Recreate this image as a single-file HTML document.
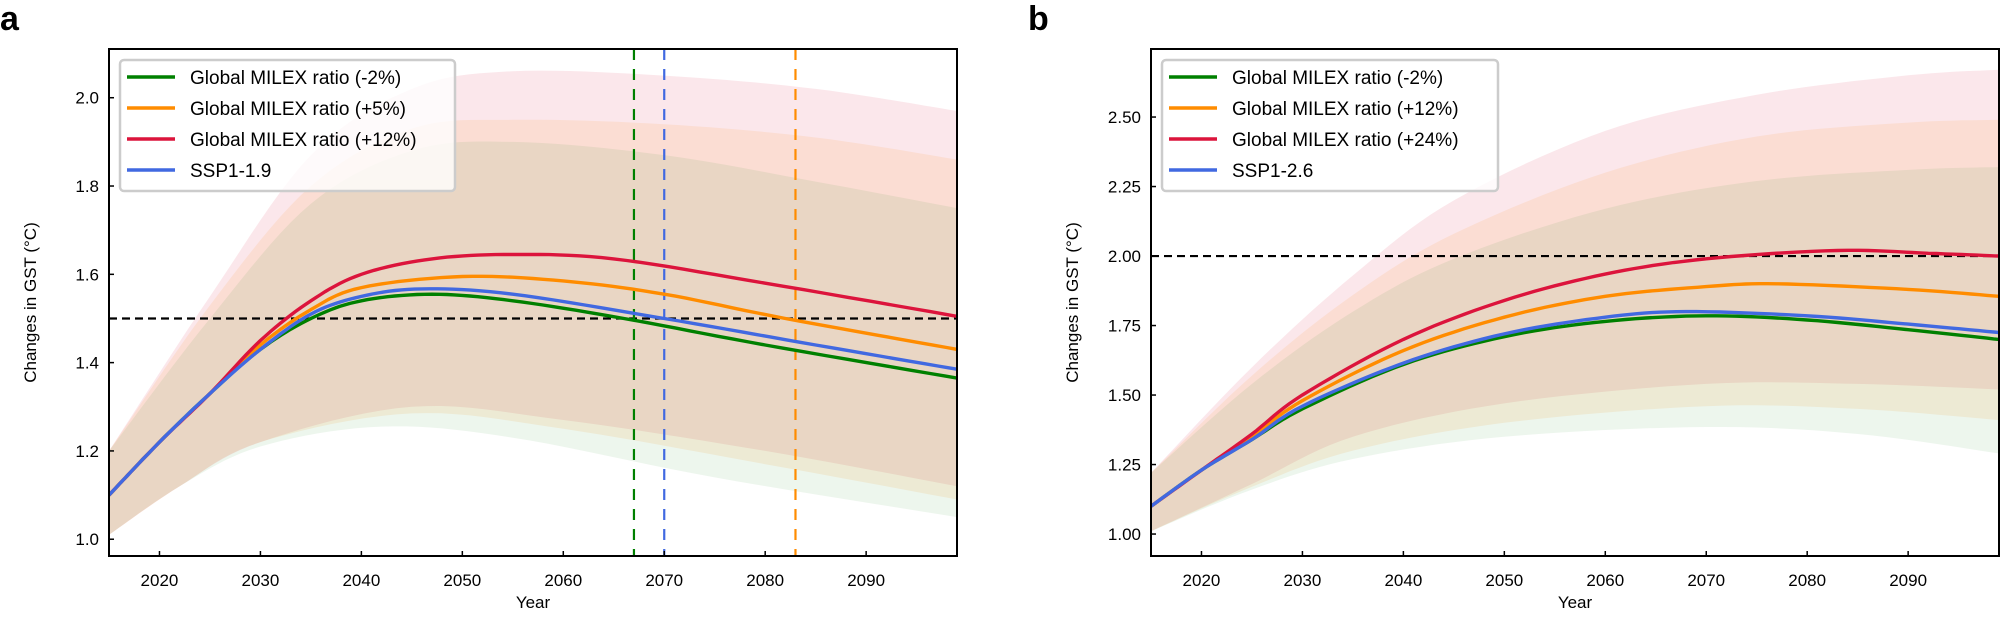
<!DOCTYPE html>
<html><head><meta charset="utf-8"><style>
body{margin:0;background:#fff;width:2001px;height:624px;overflow:hidden}
svg{font-family:"Liberation Sans",Arial,sans-serif}
</style></head><body>
<svg id="s" width="2001" height="624" xmlns="http://www.w3.org/2000/svg"></svg>
<script>
const S=document.getElementById('s');let out='';
function cr(pts){
 const r=[];for(let i=0;i<pts.length-1;i++){const p0=pts[Math.max(0,i-1)],p1=pts[i],p2=pts[i+1],p3=pts[Math.min(pts.length-1,i+2)];
 for(let t=0;t<1;t+=0.1){const t2=t*t,t3=t2*t;const f=(a,b,c,d)=>0.5*(2*b+(-a+c)*t+(2*a-5*b+4*c-d)*t2+(-a+3*b-3*c+d)*t3);r.push([f(p0[0],p1[0],p2[0],p3[0]),f(p0[1],p1[1],p2[1],p3[1])]);}}
 r.push(pts[pts.length-1]);return r;}
function panel(o){
 const X=v=>o.x0+(v-2015)*(o.x1-o.x0)/84, Y=v=>o.yb-(v-o.vmin)*o.k;
 const P=a=>cr(a).map(p=>X(p[0]).toFixed(1)+','+Y(p[1]).toFixed(1));
 let g=`<clipPath id="c${o.id}"><rect x="${o.x0}" y="49" width="${o.x1-o.x0}" height="${o.yb-49}"/></clipPath><g clip-path="url(#c${o.id})">`;
 for(const b of o.bands){g+=`<polygon points="${P(b.u).join(' ')} ${P(b.l).reverse().join(' ')}" fill="${b.c}" fill-opacity="${b.a}"/>`;}
 for(const h of o.hd)g+=`<line x1="${o.x0}" x2="${o.x1}" y1="${Y(h)}" y2="${Y(h)}" stroke="#000" stroke-width="2.2" stroke-dasharray="8,5"/>`;
 for(const v of o.vd)g+=`<line x1="${X(v[0])}" x2="${X(v[0])}" y1="49" y2="${o.yb}" stroke="${v[1]}" stroke-width="2.2" stroke-dasharray="11,9"/>`;
 for(const l of o.lines)g+=`<polyline points="${P(l.d).join(' ')}" fill="none" stroke="${l.c}" stroke-width="3.4"/>`;
 g+='</g>';
 g+=`<rect x="${o.x0}" y="49" width="${o.x1-o.x0}" height="${o.yb-49}" fill="none" stroke="#000" stroke-width="2"/>`;
 for(let yr=2020;yr<=2090;yr+=10){const x=X(yr);g+=`<line x1="${x}" x2="${x}" y1="${o.yb}" y2="${o.yb-5}" stroke="#000" stroke-width="1.5"/><text x="${x}" y="${o.yb+30}" font-size="17" text-anchor="middle">${yr}</text>`;}
 for(const t of o.yt){const y=Y(t);g+=`<line x1="${o.x0}" x2="${o.x0+5}" y1="${y}" y2="${y}" stroke="#000" stroke-width="1.5"/><text x="${o.x0-10}" y="${y+6}" font-size="17" text-anchor="end">${t.toFixed(o.dec)}</text>`;}
 g+=`<text x="${(o.x0+o.x1)/2}" y="608" font-size="17" text-anchor="middle">Year</text>`;
 g+=`<text transform="translate(${o.x0-73},${(49+o.yb)/2}) rotate(-90)" font-size="17" text-anchor="middle">Changes in GST (°C)</text>`;
 g+=`<text x="${o.lx-12}" y="30" font-size="34" font-weight="bold">${o.id}</text>`;
 const lx=o.x0+11;g+=`<rect x="${lx}" y="60" width="${o.lw}" height="131" rx="4" fill="#fff" fill-opacity="0.8" stroke="#ccc" stroke-width="2.5"/>`;
 o.leg.forEach((e,i)=>{const y=77+i*31;g+=`<line x1="${lx+7}" x2="${lx+55}" y1="${y}" y2="${y}" stroke="${e[1]}" stroke-width="3.5"/><text x="${lx+70}" y="${y+7}" font-size="19">${e[0]}</text>`;});
 out+=g;}
const G='#008000',O='#ff8c00',R='#dc143c',B='#4169e1';
panel({id:'a',x0:109,x1:957,yb:556,vmin:0.962,k:441.5,dec:1,yt:[1.0,1.2,1.4,1.6,1.8,2.0],hd:[1.5],lx:12,lw:335,
 vd:[[2067,G],[2070,B],[2083,O]],
 bands:[
 {c:R,a:0.1,u:[[2015,1.2],[2025,1.55],[2035,1.87],[2045,2.02],[2055,2.06],[2070,2.05],[2085,2.02],[2099,1.97]],l:[[2015,1.01],[2022,1.12],[2030,1.22],[2045,1.3],[2060,1.27],[2080,1.2],[2099,1.12]]},
 {c:O,a:0.1,u:[[2015,1.2],[2025,1.53],[2035,1.8],[2045,1.93],[2055,1.95],[2070,1.94],[2085,1.91],[2099,1.86]],l:[[2015,1.01],[2022,1.12],[2030,1.22],[2045,1.285],[2060,1.25],[2080,1.17],[2099,1.09]]},
 {c:G,a:0.07,u:[[2015,1.2],[2025,1.5],[2035,1.76],[2045,1.88],[2055,1.9],[2070,1.87],[2085,1.81],[2099,1.75]],l:[[2015,1.01],[2022,1.12],[2030,1.21],[2042,1.255],[2055,1.23],[2075,1.14],[2099,1.05]]}],
 lines:[
 {c:G,d:[[2015,1.1],[2020,1.22],[2025,1.33],[2030,1.43],[2035,1.5],[2040,1.54],[2047,1.555],[2055,1.54],[2066,1.5],[2080,1.44],[2099,1.365]]},
 {c:O,d:[[2015,1.1],[2020,1.22],[2025,1.33],[2030,1.44],[2035,1.52],[2040,1.57],[2050,1.595],[2060,1.585],[2070,1.555],[2082,1.5],[2099,1.43]]},
 {c:R,d:[[2015,1.1],[2020,1.22],[2025,1.33],[2030,1.45],[2035,1.54],[2040,1.6],[2047,1.635],[2055,1.645],[2065,1.635],[2080,1.58],[2099,1.505]]},
 {c:B,d:[[2015,1.1],[2020,1.22],[2025,1.33],[2030,1.43],[2035,1.51],[2040,1.55],[2046,1.567],[2055,1.555],[2070,1.5],[2085,1.44],[2099,1.385]]}],
 leg:[['Global MILEX ratio (-2%)',G],['Global MILEX ratio (+5%)',O],['Global MILEX ratio (+12%)',R],['SSP1-1.9',B]]});
panel({id:'b',x0:1151,x1:1999,yb:556,vmin:0.921,k:278,dec:2,yt:[1.0,1.25,1.5,1.75,2.0,2.25,2.5],hd:[2.0],lx:1040,lw:336,
 vd:[],
 bands:[
 {c:R,a:0.1,u:[[2015,1.22],[2025,1.6],[2035,1.93],[2045,2.2],[2060,2.45],[2075,2.58],[2090,2.65],[2099,2.67]],l:[[2015,1.01],[2025,1.18],[2035,1.35],[2050,1.47],[2070,1.54],[2085,1.54],[2099,1.52]]},
 {c:O,a:0.1,u:[[2015,1.22],[2025,1.57],[2035,1.86],[2045,2.08],[2060,2.3],[2075,2.43],[2090,2.48],[2099,2.49]],l:[[2015,1.01],[2025,1.17],[2035,1.3],[2050,1.4],[2070,1.46],[2085,1.45],[2099,1.41]]},
 {c:G,a:0.07,u:[[2015,1.22],[2025,1.54],[2035,1.8],[2045,1.99],[2060,2.17],[2075,2.27],[2090,2.31],[2099,2.32]],l:[[2015,1.01],[2025,1.16],[2035,1.27],[2050,1.35],[2070,1.385],[2085,1.36],[2099,1.29]]}],
 lines:[
 {c:G,d:[[2015,1.1],[2020,1.23],[2025,1.34],[2030,1.45],[2040,1.61],[2050,1.71],[2060,1.765],[2070,1.785],[2080,1.77],[2090,1.735],[2099,1.70]]},
 {c:O,d:[[2015,1.1],[2020,1.23],[2025,1.35],[2030,1.48],[2040,1.66],[2050,1.78],[2060,1.855],[2070,1.89],[2077,1.9],[2090,1.88],[2099,1.855]]},
 {c:R,d:[[2015,1.1],[2020,1.23],[2025,1.36],[2030,1.5],[2040,1.7],[2050,1.84],[2060,1.935],[2070,1.99],[2083,2.02],[2092,2.01],[2099,2.0]]},
 {c:B,d:[[2015,1.1],[2020,1.23],[2025,1.34],[2030,1.46],[2040,1.615],[2050,1.72],[2060,1.78],[2068,1.8],[2080,1.785],[2090,1.755],[2099,1.725]]}],
 leg:[['Global MILEX ratio (-2%)',G],['Global MILEX ratio (+12%)',O],['Global MILEX ratio (+24%)',R],['SSP1-2.6',B]]});
S.innerHTML=out;
</script>
</body></html>
